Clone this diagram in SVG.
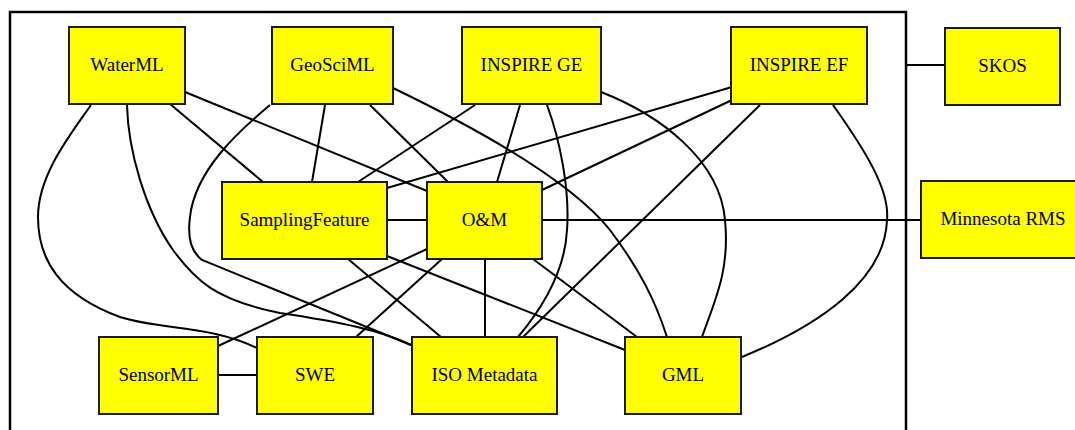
<svg xmlns="http://www.w3.org/2000/svg" width="1075" height="430" viewBox="0 0 1075 430">
<style>
.node rect{fill:#ffff00;stroke:#1a1a1a;stroke-width:2}
.node text{font-family:"Liberation Serif","Times New Roman",serif;font-size:19px;fill:#000;text-anchor:middle}
.edges path{fill:none;stroke:#000;stroke-width:2}
.cluster{fill:none;stroke:#000;stroke-width:2.5}
</style>
<rect width="1075" height="430" fill="#fff"/>
<rect class="cluster" x="10" y="12" width="896" height="440"/>
<g class="edges">
<path d="M170,104 L263,182"/>
<path d="M185,92 L427,191"/>
<path d="M91,105 C70,135 38,175 38,217 C38,260 60,295 120,317 C160,330 210,325 257,348"/>
<path d="M127,105 C128,150 145,210 173,250 C195,280 215,300 280,313 C340,322 380,330 411,345"/>
<path d="M325,105 L312,182"/>
<path d="M370,105 L448,182"/>
<path d="M270,105 C240,130 195,170 190,217 C187,240 192,252 202,260 L411,345"/>
<path d="M393,88 C480,130 570,180 610,230 C640,270 655,300 667,337"/>
<path d="M475,105 L358,182"/>
<path d="M520,105 L497,182"/>
<path d="M547,105 C560,140 570,190 567,230 C565,270 545,305 518,337"/>
<path d="M601,92 C660,115 720,160 725,220 C730,270 715,300 702,337"/>
<path d="M732,87 L387,188"/>
<path d="M732,100 L542,190"/>
<path d="M760,105 L523,337"/>
<path d="M833,105 C865,150 890,190 887,220 C885,280 820,325 742,357"/>
<path d="M906,65 L945,65"/>
<path d="M542,220 L921,220"/>
<path d="M387,220 L427,220"/>
<path d="M348,259 L441,337"/>
<path d="M387,256 L625,350"/>
<path d="M427,249 L218,346"/>
<path d="M442,259 L356,337"/>
<path d="M485,259 L485,337"/>
<path d="M533,259 L637,337"/>
<path d="M218,375 L257,375"/>
</g>
<g id="waterml" class="node"><rect x="69" y="27" width="116" height="77"/><text x="127" y="71">WaterML</text></g>
<g id="geosciml" class="node"><rect x="272" y="27" width="121" height="77"/><text x="332.5" y="71">GeoSciML</text></g>
<g id="inspire-ge" class="node"><rect x="462" y="27" width="139" height="77"/><text x="531.5" y="71">INSPIRE GE</text></g>
<g id="inspire-ef" class="node"><rect x="731" y="27" width="136" height="77"/><text x="799" y="71">INSPIRE EF</text></g>
<g id="skos" class="node"><rect x="945" y="28" width="115" height="77"/><text x="1002.5" y="72">SKOS</text></g>
<g id="samplingfeature" class="node"><rect x="222" y="182" width="165" height="77"/><text x="304.5" y="226">SamplingFeature</text></g>
<g id="om" class="node"><rect x="427" y="182" width="115" height="77"/><text x="484.5" y="226">O&amp;M</text></g>
<g id="minnesota-rms" class="node"><rect x="921" y="181" width="164" height="77"/><text x="1003" y="225">Minnesota RMS</text></g>
<g id="sensorml" class="node"><rect x="99" y="337" width="119" height="77"/><text x="158.5" y="381">SensorML</text></g>
<g id="swe" class="node"><rect x="257" y="337" width="116" height="77"/><text x="315" y="381">SWE</text></g>
<g id="iso-metadata" class="node"><rect x="412" y="337" width="145" height="77"/><text x="484.5" y="381">ISO Metadata</text></g>
<g id="gml" class="node"><rect x="625" y="337" width="116" height="77"/><text x="683" y="381">GML</text></g>
</svg>
